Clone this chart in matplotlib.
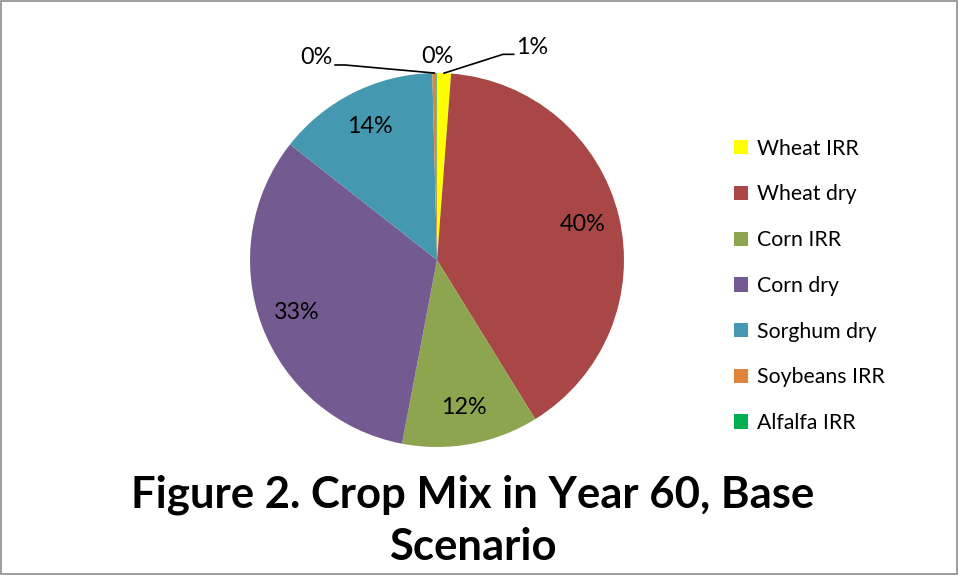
import numpy as np
import matplotlib
matplotlib.use('Agg')
import matplotlib.pyplot as plt
from matplotlib.patches import Rectangle

plt.rcParams['font.family'] = ['Lato', 'DejaVu Sans']

# Data
crops = ['Wheat IRR', 'Wheat dry', 'Corn IRR', 'Corn dry',
         'Sorghum dry', 'Soybeans IRR', 'Alfalfa IRR']
shares = [1.2, 40.0, 11.8, 32.6, 14.0, 0.35, 0.05]
colors = ['#FFFF00', '#A84745', '#8CA54E', '#735A91',
          '#4498B0', '#E0843C', '#00B050']
title_text = 'Figure 2. Crop Mix in Year 60, Base\nScenario'

fig = plt.figure(figsize=(9.59, 5.75), dpi=100)
fig.patches.append(Rectangle((0.001, 0.001), 0.997, 0.997, transform=fig.transFigure,
                             fill=False, edgecolor='#8c8c8c', linewidth=1.2))

# pie axes: centre ~(437,260) px, radius ~187 px
ax = fig.add_axes([0.2607, 0.2226, 0.390, 0.6504])


def pct_label(p):
    return f'{p:.0f}%' if p >= 5 else ''


lab_size = 16.8
wedges, texts, autotexts = ax.pie(shares, colors=colors, startangle=90, counterclock=False,
                                  autopct=pct_label, pctdistance=0.8,
                                  wedgeprops=dict(linewidth=0),
                                  textprops=dict(fontsize=lab_size, color='black'))
ax.set_xlim(-1, 1)
ax.set_ylim(-1, 1)
ax.set_aspect('equal')
ax.axis('off')


def edge_point(w):
    ang = np.deg2rad((w.theta1 + w.theta2) / 2)
    return np.cos(ang), np.sin(ang)


# small slices get outside labels
x0, y0 = edge_point(wedges[0])
ax.plot([x0, 0.353, 0.41], [y0, 1.10, 1.10], color='black', lw=1.2, clip_on=False)
ax.text(0.425, 1.135, f'{shares[0]:.0f}%', fontsize=lab_size, ha='left', va='center')

x5, y5 = edge_point(wedges[5])
ax.plot([x5, -0.492, -0.545], [y5, 1.043, 1.043], color='black', lw=1.2, clip_on=False)
ax.text(-0.56, 1.085, f'{shares[5]:.0f}%', fontsize=lab_size, ha='right', va='center')

ax.text(0.0, 1.09, f'{shares[6]:.0f}%', fontsize=lab_size, ha='center', va='center')

# legend
leg = fig.legend(wedges, crops, loc='upper left', bbox_to_anchor=(0.745, 0.792),
                 frameon=False, fontsize=15.3, handlelength=0.66, handleheight=0.66,
                 handletextpad=0.42, labelspacing=1.21)

fig.text(0.493, 0.095, title_text, ha='center', va='center', fontsize=31.4,
         fontweight='bold', linespacing=1.36)

fig.savefig('out.png', dpi=100)
